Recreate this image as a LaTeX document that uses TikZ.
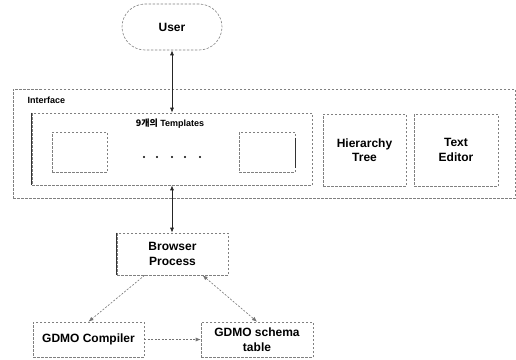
\documentclass[tikz,border=0pt]{standalone}
\usepackage{fontspec}
\setmainfont{Liberation Sans}
\newfontfamily\krfont{Noto Sans CJK KR}
\usetikzlibrary{arrows.meta,calc}
\begin{document}
\begin{tikzpicture}[x=1pt,y=-1pt,
  box/.style={draw=black!50, line width=0.6pt, dash pattern=on 2.5pt off 1.5pt, rectangle, inner sep=0pt, align=center, font=\bfseries\fontsize{12}{14.5}\selectfont},
  solidedge/.style={draw=black!80, line width=0.7pt},
  link/.style={draw=black!85, line width=0.7pt},
  dlink/.style={draw=black!55, line width=0.6pt, dash pattern=on 2pt off 1.5pt},
  tip/.style={-{Latex[length=5pt,width=4pt]}},
  tips/.style={{Latex[length=5pt,width=4pt]}-{Latex[length=5pt,width=4pt]}},
  dotmark/.style={circle, fill=black, inner sep=0pt, minimum size=2.2pt}]
\useasboundingbox (0,0) rectangle (516,359);

% User
\node[box, rounded corners=23pt, minimum width=100pt, minimum height=46pt] (user) at (172,27) {User};

% Interface outer box
\node[box, minimum width=502pt, minimum height=109pt] (iface) at (264,143.5) {};
\node[anchor=west, font=\bfseries\fontsize{9}{10}\selectfont] (ifacelbl) at (24,100) {Interface};

% Templates group
\node[box, minimum width=280pt, minimum height=72pt] (tmpl) at (172,149) {};
\node[font=\bfseries\fontsize{9}{11}\selectfont] (tmpllbl) at (170,124) {{\krfont 9개의} Templates};
\node[box, minimum width=55pt, minimum height=40pt] (tl) at (79.5,152) {};
\node[box, minimum width=56pt, minimum height=40pt] (tr) at (267,152) {};
\draw[solidedge] (tmpl.north west) -- (tmpl.south west);
\draw[solidedge] (tr.north east) ++(0,6) -- ($(tr.south east)+(0,-4)$);
\foreach \i/\x in {1/144,2/157,3/172,4/185,5/200}
  \node[dotmark] (d\i) at (\x,157) {};

% Hierarchy Tree and Text Editor
\node[box, minimum width=83pt, minimum height=72pt] (hier) at (364.5,150) {Hierarchy\\Tree};
\node[box, minimum width=84pt, minimum height=72pt] (edit) at (456,150) {Text\\Editor};

% Browser Process
\node[box, minimum width=111pt, minimum height=42pt] (browser) at (172.5,254) {Browser\\Process};
\draw[solidedge] (browser.north west) -- (browser.south west);

% GDMO boxes
\node[box, minimum width=111pt, minimum height=35pt] (comp) at (88.5,339.5) {GDMO Compiler};
\node[box, minimum width=112pt, minimum height=35pt] (schema) at (257,339.5) {GDMO schema\\table};

% Connectors
\draw[link, tips] (user.south) -- (tmpl.north);
\draw[link, tips] (tmpl.south) -- (tmpl.south |- browser.north);
\draw[dlink, tip] ($(browser.south west)!0.25!(browser.south east)$) -- (comp.north);
\draw[dlink, tips] ($(browser.south west)!0.77!(browser.south east)$) -- (schema.north);
\draw[dlink, tip] (comp.east) -- (schema.west);
\end{tikzpicture}
\end{document}
